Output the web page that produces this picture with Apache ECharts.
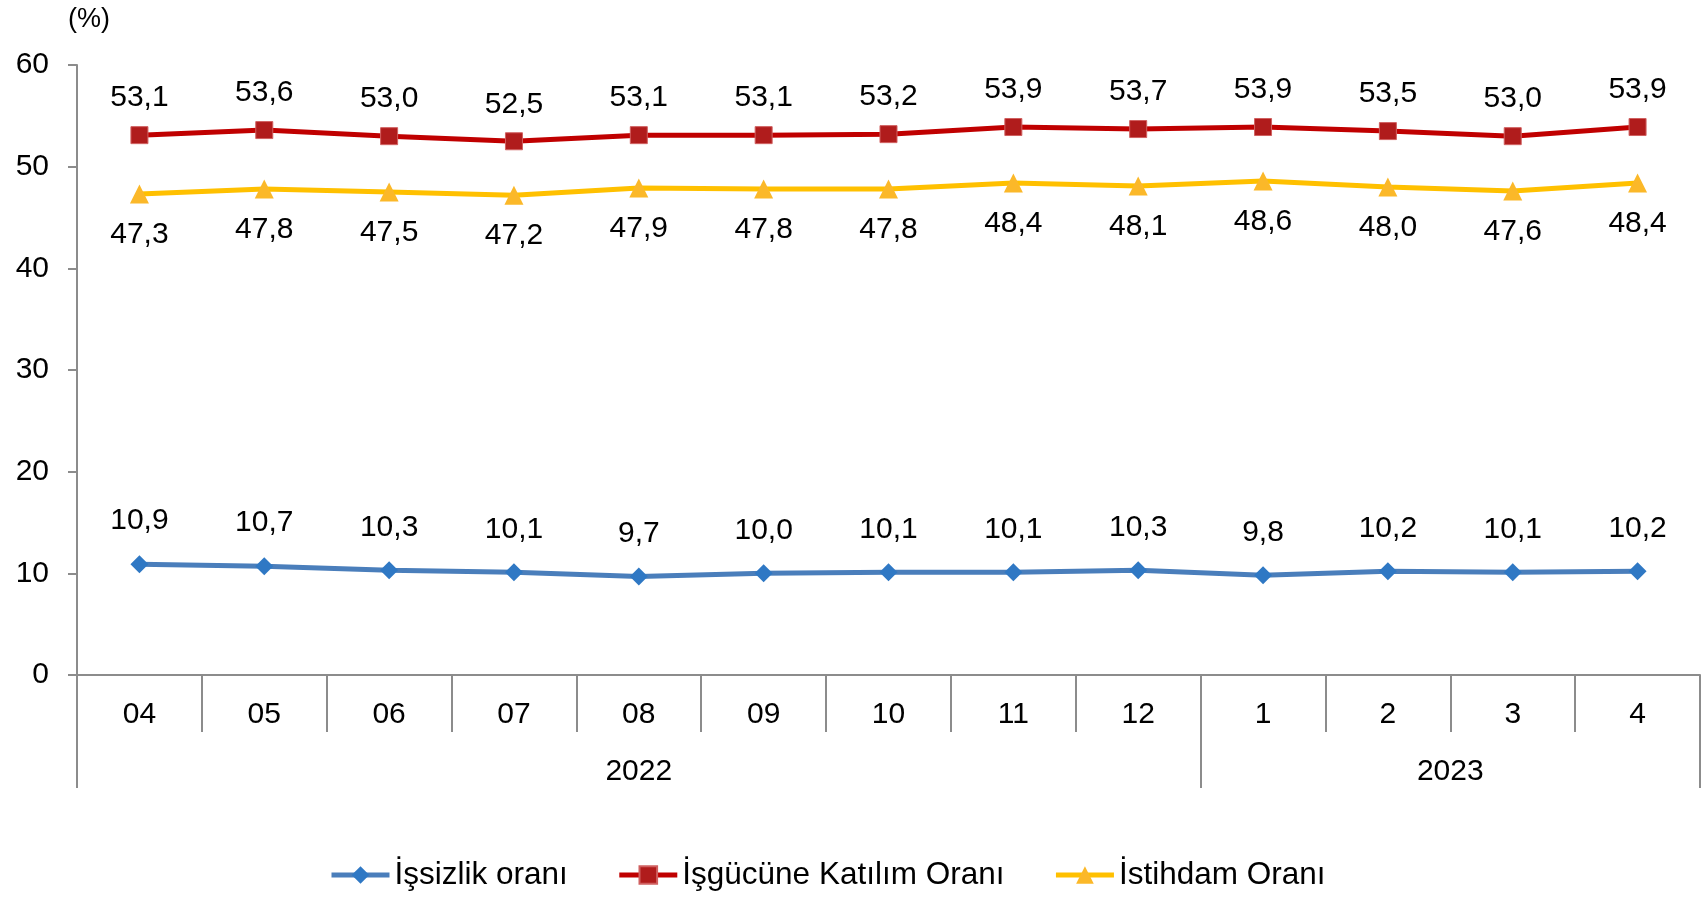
<!DOCTYPE html>
<html>
<head>
<meta charset="utf-8">
<script src="https://cdn.jsdelivr.net/npm/echarts@6/dist/echarts.min.js"></script>
<style>
  html, body { margin: 0; padding: 0; background: #fff; }
  #chart { width: 1707px; height: 897px; }
</style>
</head>
<body>
<div id="chart"></div>
<script>
// ay etiketleri ve yıllar
const months = ['04', '05', '06', '07', '08', '09', '10', '11', '12', '1', '2', '3', '4'];
const yearLabels = { 4.5: '2022', 11: '2023' };
const yearBounds = [0, 9, 13];

const issizlik = [10.9, 10.7, 10.3, 10.1, 9.7, 10.0, 10.1, 10.1, 10.3, 9.8, 10.2, 10.1, 10.2];
const katilim = [53.1, 53.6, 53.0, 52.5, 53.1, 53.1, 53.2, 53.9, 53.7, 53.9, 53.5, 53.0, 53.9];
const istihdam = [47.3, 47.8, 47.5, 47.2, 47.9, 47.8, 47.8, 48.4, 48.1, 48.6, 48.0, 47.6, 48.4];

const FONT = 'Liberation Sans, Arial, sans-serif';
const AXIS_COLOR = '#8c8c8c';
const FS = 30;

const fmt = function (p) {
  return p.value.toFixed(1).replace('.', ',');
};

const chart = echarts.init(document.getElementById('chart'));
chart.setOption({
  backgroundColor: '#fff',
  animation: false,
  title: {
    text: '(%)',
    left: 63,
    top: 1,
    textStyle: { fontFamily: FONT, fontSize: 27, fontWeight: 'normal', color: '#000' }
  },
  grid: { left: 77, right: 7, top: 65, bottom: 222 },
  legend: {
    bottom: 1,
    left: 324,
    itemWidth: 58,
    itemHeight: 22,
    itemGap: 49,
    lineStyle: { width: 5 },
    textStyle: { fontFamily: FONT, fontSize: 31.5, color: '#000' },
    data: ['İşsizlik oranı', 'İşgücüne Katılım Oranı', 'İstihdam Oranı']
  },
  xAxis: [
    {
      type: 'category',
      data: months,
      boundaryGap: true,
      axisLine: { lineStyle: { color: AXIS_COLOR, width: 2 } },
      axisTick: { show: true, interval: 0, length: 57, lineStyle: { color: AXIS_COLOR, width: 2 } },
      axisLabel: { interval: 0, margin: 25, fontFamily: FONT, fontSize: FS, color: '#000' }
    },
    {
      type: 'value',
      position: 'bottom',
      min: 0,
      max: 13,
      splitLine: { show: false },
      axisLine: { show: false },
      axisTick: {
        show: true,
        customValues: yearBounds,
        length: 113,
        lineStyle: { color: AXIS_COLOR, width: 2 }
      },
      axisLabel: {
        customValues: [4.5, 11],
        margin: 82,
        fontFamily: FONT,
        fontSize: FS,
        color: '#000',
        formatter: function (v) { return yearLabels[v] || ''; }
      }
    }
  ],
  yAxis: {
    type: 'value',
    min: 0,
    max: 60,
    interval: 10,
    splitLine: { show: false },
    axisLine: { show: true, lineStyle: { color: AXIS_COLOR, width: 2 } },
    axisTick: { show: true, length: 9, lineStyle: { color: AXIS_COLOR, width: 2 } },
    axisLabel: { margin: 28, fontFamily: FONT, fontSize: FS, color: '#000' }
  },
  series: [
    {
      name: 'İşsizlik oranı',
      type: 'line',
      data: issizlik,
      symbol: 'diamond',
      symbolSize: 18,
      lineStyle: { color: '#4a7ebb', width: 5 },
      itemStyle: { color: '#2f78c4' },
      label: { show: true, position: 'top', distance: 19, formatter: fmt, fontFamily: FONT, fontSize: FS, color: '#000' }
    },
    {
      name: 'İşgücüne Katılım Oranı',
      type: 'line',
      data: katilim,
      symbol: 'rect',
      symbolSize: 17,
      lineStyle: { color: '#c00000', width: 5 },
      itemStyle: { color: '#b01c1c', borderColor: '#d06060', borderWidth: 1 },
      label: { show: true, position: 'top', distance: 13, formatter: fmt, fontFamily: FONT, fontSize: FS, color: '#000' }
    },
    {
      name: 'İstihdam Oranı',
      type: 'line',
      data: istihdam,
      symbol: 'triangle',
      symbolSize: 19,
      lineStyle: { color: '#ffc000', width: 5 },
      itemStyle: { color: '#fbb829' },
      label: { show: true, position: 'bottom', distance: 16, formatter: fmt, fontFamily: FONT, fontSize: FS, color: '#000' }
    }
  ]
});
</script>
</body>
</html>
